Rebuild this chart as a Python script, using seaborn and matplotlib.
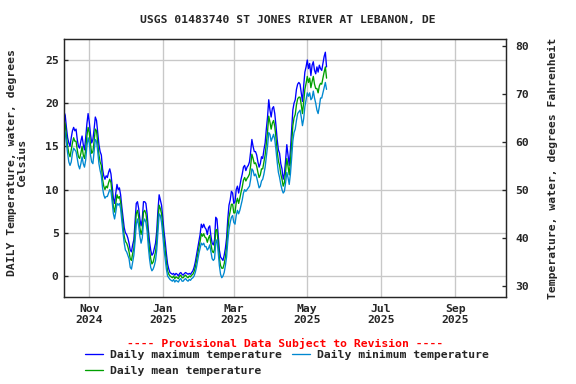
import numpy as np
import pandas as pd
import matplotlib
matplotlib.use("Agg")
import matplotlib.pyplot as plt
import matplotlib.dates as mdates
import seaborn as sns

start_date = "2024-10-11"

daily_max = [
    19.0, 18.6, 17.2, 16.0, 15.4, 15.0, 16.0, 16.8, 17.2, 16.8,
    17.0, 15.8, 15.0, 14.8, 15.6, 16.2, 15.2, 14.6, 16.0, 17.6,
    18.8, 17.8, 16.4, 15.4, 15.8, 17.0, 18.4, 18.0, 16.6, 15.2,
    14.4, 14.0, 12.4, 11.6, 11.2, 11.6, 11.4, 12.0, 12.4, 11.8,
    10.4, 9.0, 8.4, 9.6, 10.6, 10.0, 10.2, 9.4, 8.0, 6.8,
    5.6, 5.0, 4.8, 4.4, 3.8, 3.0, 2.8, 3.6, 4.2, 6.4,
    8.4, 8.6, 7.8, 6.6, 5.8, 6.6, 8.6, 8.6, 8.4, 7.2,
    5.4, 4.0, 3.0, 2.4, 2.6, 3.2, 3.8, 5.2, 7.6, 9.4,
    8.8, 8.2, 6.8, 5.2, 4.0, 2.6, 1.4, 0.8, 0.4, 0.3,
    0.2, 0.3, 0.1, 0.3, 0.2, 0.0, 0.3, 0.4, 0.2, 0.1,
    0.3, 0.4, 0.3, 0.2, 0.3, 0.2, 0.4, 0.6, 1.0, 1.6,
    2.4, 3.2, 4.0, 4.8, 6.0, 5.6, 6.0, 5.6, 5.4, 4.8,
    5.6, 5.8, 4.6, 3.8, 3.6, 4.2, 6.8, 6.6, 4.8, 3.0,
    2.2, 2.0, 1.8, 2.4, 3.2, 4.4, 6.6, 8.2, 8.8, 9.8,
    9.6, 8.4, 8.6, 10.0, 10.4, 9.6, 10.4, 11.2, 11.8, 12.6,
    12.8, 12.2, 12.6, 12.8, 13.2, 14.4, 15.8, 15.0, 14.4, 14.4,
    14.0, 13.2, 12.6, 13.0, 13.8, 13.6, 14.6, 15.4, 17.0, 18.4,
    20.4, 19.2, 18.4, 19.4, 19.6, 18.8, 17.4, 15.8, 14.6, 14.2,
    13.0, 12.4, 11.2, 11.8, 13.4, 15.2, 14.0, 12.8, 14.6, 17.0,
    19.2, 20.0, 20.4, 21.6, 22.2, 22.4, 22.2, 21.2, 20.2, 22.0,
    23.6, 24.2, 25.0, 24.0, 24.6, 23.2, 24.4, 24.8, 23.8, 23.4,
    24.2, 23.6, 24.4, 24.0, 23.8, 24.6, 25.4, 25.9, 24.2,
]

daily_min = [
    17.0, 16.6, 15.4, 14.2, 13.2, 12.8, 13.2, 14.2, 14.8, 14.6,
    14.4, 13.6, 12.8, 12.4, 13.0, 13.8, 13.0, 12.6, 13.4, 15.0,
    16.0, 15.4, 14.0, 13.2, 13.0, 14.4, 15.8, 15.6, 14.4, 13.0,
    12.2, 11.6, 10.2, 9.4, 9.0, 9.2, 9.2, 9.6, 10.0, 9.8,
    8.6, 7.2, 6.6, 7.4, 8.4, 8.2, 8.4, 7.8, 6.4, 5.0,
    3.8, 3.0, 2.8, 2.4, 2.0, 1.0, 0.8, 1.6, 2.4, 4.0,
    6.0, 6.6, 5.8, 4.6, 3.8, 4.4, 6.2, 6.6, 6.2, 5.2,
    3.4, 2.0, 1.0, 0.6, 0.8, 1.2, 1.8, 3.0, 5.2, 7.2,
    7.0, 6.2, 4.8, 3.2, 2.0, 0.8, 0.0, -0.2, -0.4, -0.5,
    -0.6, -0.4, -0.7, -0.5, -0.6, -0.7, -0.4, -0.3, -0.6, -0.6,
    -0.4, -0.3, -0.5, -0.6, -0.4, -0.5, -0.3, -0.2, 0.0, 0.4,
    1.0, 1.8, 2.6, 3.2, 3.8, 3.6, 3.8, 3.4, 3.4, 3.0,
    3.2, 3.6, 2.8, 2.0, 1.8, 2.0, 3.8, 4.2, 2.8, 1.2,
    0.2, -0.2, 0.0, 0.4, 1.2, 2.2, 4.0, 5.4, 6.2, 6.8,
    7.0, 6.2, 6.0, 7.0, 7.6, 7.2, 7.6, 8.2, 8.8, 9.6,
    10.0, 9.8, 10.0, 10.2, 10.4, 11.2, 12.4, 12.2, 11.6, 11.8,
    11.4, 10.8, 10.2, 10.4, 11.0, 11.2, 11.8, 12.6, 13.8, 15.0,
    16.6, 16.4, 15.6, 16.0, 16.4, 15.8, 14.6, 13.2, 12.0, 11.4,
    10.6, 10.0, 9.6, 9.8, 10.8, 12.0, 11.4, 10.6, 11.8, 13.6,
    15.6, 16.6, 17.0, 18.0, 18.8, 19.0, 19.2, 18.4, 17.4, 18.2,
    19.6, 20.4, 21.2, 20.8, 21.2, 20.4, 20.6, 21.4, 20.6, 20.0,
    19.2, 18.8, 19.6, 20.6, 20.6, 21.2, 21.8, 22.4, 21.6,
]

daily_mean = [
    18.0, 17.6, 16.2, 15.0, 14.2, 13.8, 14.6, 15.4, 16.0, 15.6,
    15.6, 14.6, 13.8, 13.6, 14.2, 15.0, 14.0, 13.6, 14.6, 16.2,
    17.2, 16.6, 15.2, 14.2, 14.4, 15.6, 17.0, 16.8, 15.4, 14.0,
    13.2, 12.8, 11.2, 10.4, 10.0, 10.4, 10.2, 10.8, 11.2, 10.8,
    9.4, 8.0, 7.4, 8.4, 9.4, 9.0, 9.2, 8.6, 7.2, 5.8,
    4.6, 4.0, 3.8, 3.4, 2.8, 2.0, 1.8, 2.6, 3.2, 5.2,
    7.2, 7.6, 6.8, 5.6, 4.8, 5.4, 7.4, 7.6, 7.2, 6.2,
    4.4, 3.0, 2.0, 1.4, 1.6, 2.2, 2.8, 4.0, 6.4, 8.2,
    7.8, 7.2, 5.8, 4.2, 3.0, 1.6, 0.6, 0.2, 0.0, -0.1,
    -0.2, 0.0, -0.3, -0.1, -0.2, -0.3, 0.0, 0.1, -0.2, -0.2,
    0.0, 0.1, -0.1, -0.2, 0.0, -0.1, 0.1, 0.2, 0.5, 1.0,
    1.7, 2.5, 3.3, 4.0, 4.9, 4.6, 4.9, 4.5, 4.4, 3.9,
    4.4, 4.7, 3.7, 2.9, 2.7, 3.1, 5.3, 5.4, 3.8, 2.1,
    1.2, 0.9, 0.9, 1.4, 2.2, 3.3, 5.3, 6.8, 7.5, 8.3,
    8.3, 7.3, 7.3, 8.5, 9.0, 8.4, 9.0, 9.7, 10.3, 11.1,
    11.4, 11.0, 11.3, 11.5, 11.8, 12.8, 14.1, 13.6, 13.0, 13.1,
    12.7, 12.0, 11.4, 11.7, 12.4, 12.4, 13.2, 14.0, 15.4, 16.7,
    18.5, 17.8, 17.0, 17.7, 18.0, 17.3, 16.0, 14.5, 13.3, 12.8,
    11.8, 11.2, 10.4, 10.8, 12.1, 13.6, 12.7, 11.7, 13.2, 15.3,
    17.4, 18.3, 18.7, 19.8, 20.5, 20.7, 20.7, 19.8, 18.8, 20.1,
    21.6, 22.3, 23.1, 22.4, 22.9, 21.8, 22.5, 23.1, 22.2, 21.7,
    21.7, 21.2, 22.0, 22.3, 22.2, 22.9, 23.6, 24.2, 22.9,
]

month_ticks = ["2024-11-01", "2025-01-01", "2025-03-01", "2025-05-01", "2025-07-01", "2025-09-01"]
month_labels = ["Nov\n2024", "Jan\n2025", "Mar\n2025", "May\n2025", "Jul\n2025", "Sep\n2025"]
c_ticks = [0, 5, 10, 15, 20, 25]
f_ticks = [30, 40, 50, 60, 70, 80]

title = "USGS 01483740 ST JONES RIVER AT LEBANON, DE"
label_max = "Daily maximum temperature"
label_min = "Daily minimum temperature"
label_mean = "Daily mean temperature"

n = len(daily_max)
dates = pd.date_range(start_date, periods=n, freq="D")
df = pd.DataFrame({"date": dates, "max": daily_max, "min": daily_min[:n], "mean": daily_mean[:n]})

sns.set_style("white")
plt.rcParams["font.family"] = ["DejaVu Sans Mono"]
plt.rcParams["font.weight"] = "bold"

fig = plt.figure(figsize=(6, 4), dpi=96)
ax = fig.add_axes([64/576, 1-297/384, (506-64)/576, (297-39)/384])

c_max = "#0000ff"
c_min = "#0088d0"
c_mean = "#00a000"

sns.lineplot(data=df, x="date", y="max", ax=ax, color=c_max, lw=1.0, label=label_max, legend=False)
sns.lineplot(data=df, x="date", y="mean", ax=ax, color=c_mean, lw=1.0, label=label_mean, legend=False)
sns.lineplot(data=df, x="date", y="min", ax=ax, color=c_min, lw=1.0, label=label_min, legend=False)

ax.set_xlim(pd.Timestamp("2024-10-11"), pd.Timestamp("2025-10-13"))
ax.set_ylim(-2.43, 27.43)
ax.set_xticks([pd.Timestamp(t) for t in month_ticks])
ax.set_xticklabels(month_labels)
ax.set_yticks(c_ticks)
ax.grid(True, color="#c8c8c8", lw=1)
ax.set_axisbelow(True)
ax.set_xlabel("")
ax.set_ylabel("")
for s in ax.spines.values():
    s.set_color("black")
    s.set_linewidth(1)
ax.tick_params(axis="both", direction="in", length=3, labelsize=8.5, width=1, pad=4)
ax.tick_params(axis="x", length=0, pad=5)

ax2 = ax.twinx()
lo, hi = ax.get_ylim()
ax2.set_ylim(lo*9/5+32, hi*9/5+32)
ax2.set_yticks(f_ticks)
ax2.tick_params(axis="y", direction="in", length=3, labelsize=8.5, width=1, pad=7)
ax2.grid(False)
ax2.set_ylabel("Temperature, water, degrees Fahrenheit", fontsize=8.5, fontweight="bold", labelpad=14)

fig.text(17/576, 1-163/384, "DAILY Temperature, water, degrees\nCelsius", rotation=90,
         ha="center", va="center", fontsize=8.5, fontweight="bold", multialignment="center", linespacing=1.05)

fig.text(288/576, 1-20/384, title, ha="center", va="center", fontsize=8.5, fontweight="bold")
fig.text(285/576, 1-343/384, "---- Provisional Data Subject to Revision ----", ha="center", va="center",
         fontsize=8.5, fontweight="bold", color="red")

h, l = ax.get_legend_handles_labels()
order = [label_max, label_mean, label_min]
hs = [h[l.index(k)] for k in order]
fig.legend(hs, order, loc="upper left", bbox_to_anchor=(85/576, 1-350/384), ncol=2, frameon=False,
           fontsize=8.5, handlelength=1.6, handletextpad=0.6, columnspacing=0.9, labelspacing=0.5,
           borderaxespad=0, borderpad=0)

fig.savefig("out.png", dpi=96)
